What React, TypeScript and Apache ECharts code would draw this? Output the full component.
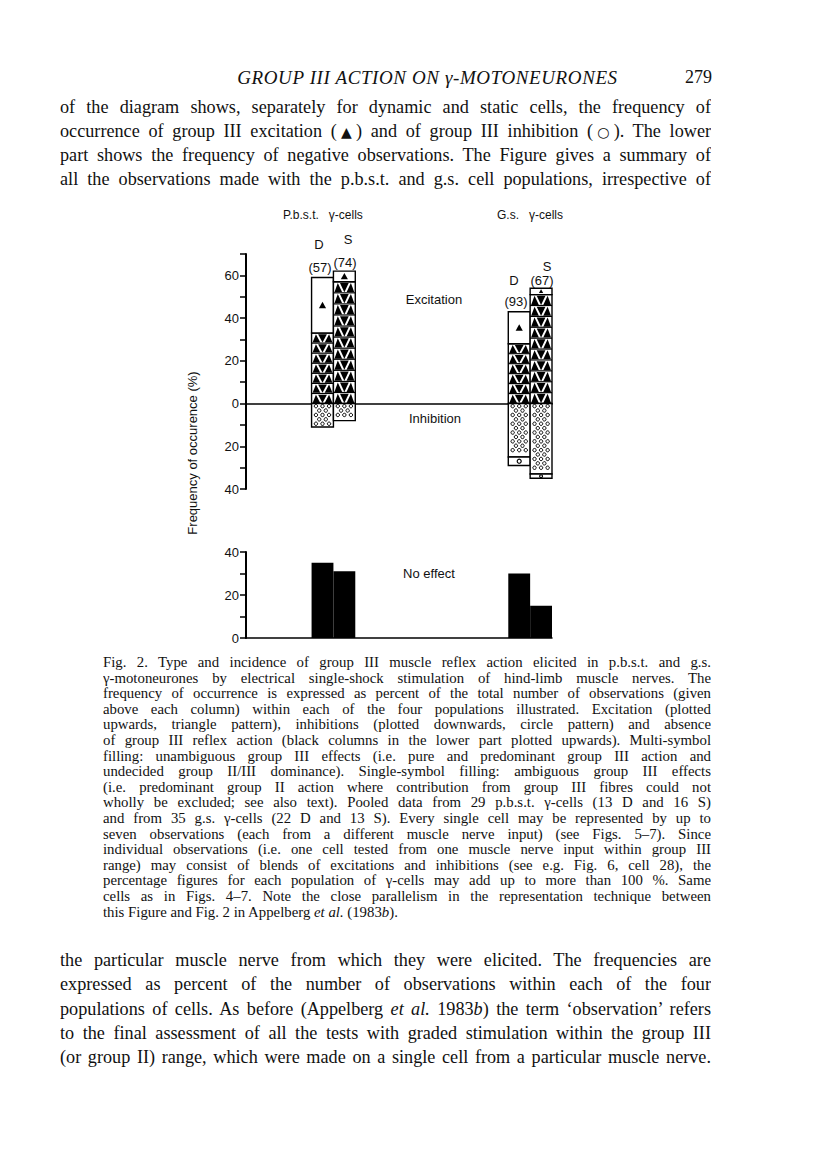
import React, { useEffect, useRef } from "react";
import * as echarts from "echarts";

// ---------- data ----------
const groupNames = ["P.b.s.t.", "G.s."];
const cellTypes = ["D", "S", "D", "S"];
const observations = [57, 74, 93, 67];
const excitationMulti = [33, 57, 28, 51];
const excitationSingle = [26, 5, 15, 3];
const inhibitionMulti = [11, 8, 25, 33];
const inhibitionSingle = [0, 0, 4, 2];
const noEffect = [35, 31, 30, 15];
const upperTicks = [-40, -20, 0, 20, 40, 60];
const lowerTicks = [0, 20, 40];

// ---------- page text ----------
const headerTitle = "GROUP III ACTION ON γ-MOTONEURONES";
const pageNumber = "279";
const SYM: React.CSSProperties = { fontFamily: "'DejaVu Sans', sans-serif", fontSize: 14 };
const topLines: React.ReactNode[] = [
  "of the diagram shows, separately for dynamic and static cells, the frequency of",
  <>occurrence of group III excitation (<span style={SYM}>▲</span>) and of group III inhibition (<span style={SYM}>○</span>). The lower</>,
  "part shows the frequency of negative observations. The Figure gives a summary of",
  "all the observations made with the p.b.s.t. and g.s. cell populations, irrespective of",
];
const captionLines: React.ReactNode[] = [
  "Fig. 2. Type and incidence of group III muscle reflex action elicited in p.b.s.t. and g.s.",
  "γ-motoneurones by electrical single-shock stimulation of hind-limb muscle nerves. The",
  "frequency of occurrence is expressed as percent of the total number of observations (given",
  "above each column) within each of the four populations illustrated. Excitation (plotted",
  "upwards, triangle pattern), inhibitions (plotted downwards, circle pattern) and absence",
  "of group III reflex action (black columns in the lower part plotted upwards). Multi-symbol",
  "filling: unambiguous group III effects (i.e. pure and predominant group III action and",
  "undecided group II/III dominance). Single-symbol filling: ambiguous group III effects",
  "(i.e. predominant group II action where contribution from group III fibres could not",
  "wholly be excluded; see also text). Pooled data from 29 p.b.s.t. γ-cells (13 D and 16 S)",
  "and from 35 g.s. γ-cells (22 D and 13 S). Every single cell may be represented by up to",
  "seven observations (each from a different muscle nerve input) (see Figs. 5–7). Since",
  "individual observations (i.e. one cell tested from one muscle nerve input within group III",
  "range) may consist of blends of excitations and inhibitions (see e.g. Fig. 6, cell 28), the",
  "percentage figures for each population of γ-cells may add up to more than 100 %. Same",
  "cells as in Figs. 4–7. Note the close parallelism in the representation technique between",
  <>this Figure and Fig. 2 in Appelberg <i>et al.</i> (1983<i>b</i>).</>,
];
const bottomLines: React.ReactNode[] = [
  "the particular muscle nerve from which they were elicited. The frequencies are",
  "expressed as percent of the number of observations within each of the four",
  <>populations of cells. As before (Appelberg <i>et al.</i> 1983<i>b</i>) the term ‘observation’ refers</>,
  "to the final assessment of all the tests with graded stimulation within the group III",
  "(or group II) range, which were made on a single cell from a particular muscle nerve.",
];

// layout: column slot on the x scale (0..14)
const SLOTS = [3, 4, 12, 13];

const SANS = "'Liberation Sans', Arial, sans-serif";
const SERIF = "'Liberation Serif', 'Times New Roman', serif";

function buildSegments() {
  const segs: number[][] = [];
  for (let i = 0; i < 4; i++) {
    const s = SLOTS[i];
    segs.push([s, 0, excitationMulti[i], 0]);
    if (excitationSingle[i] > 0)
      segs.push([s, excitationMulti[i], excitationMulti[i] + excitationSingle[i], 1]);
    segs.push([s, 0, -inhibitionMulti[i], 2]);
    if (inhibitionSingle[i] > 0)
      segs.push([s, -inhibitionMulti[i], -(inhibitionMulti[i] + inhibitionSingle[i]), 3]);
  }
  return segs;
}

function renderSegment(_params: any, api: any) {
  const s = api.value(0);
  const a = api.value(1);
  const b = api.value(2);
  const k = api.value(3);
  const p0 = api.coord([s, a]);
  const p1 = api.coord([s + 1, b]);
  const x = p0[0];
  const w = p1[0] - p0[0];
  const y = Math.min(p0[1], p1[1]);
  const h = Math.abs(p1[1] - p0[1]);
  const children: any[] = [
    {
      type: "rect",
      shape: { x, y, width: w, height: h },
      style: { fill: "#fff", stroke: "#000", lineWidth: 1.4 },
    },
  ];
  if (k === 0) {
    const n = Math.max(1, Math.round(h / 10.7));
    const rh = h / n;
    for (let r = 0; r < n; r++) {
      const yt = y + r * rh + 1.2;
      const yb = y + (r + 1) * rh - 0.6;
      children.push({
        type: "polygon",
        shape: { points: [[x + 1, yb], [x + 0.2 * w, yt], [x + 0.4 * w, yb]] },
        style: { fill: "#000" },
      });
      children.push({
        type: "polygon",
        shape: { points: [[x + 0.3 * w, yt], [x + 0.7 * w, yt], [x + 0.5 * w, yb]] },
        style: { fill: "#000" },
      });
      children.push({
        type: "polygon",
        shape: { points: [[x + 0.6 * w, yb], [x + 0.8 * w, yt], [x + w - 1, yb]] },
        style: { fill: "#000" },
      });
      children.push({
        type: "line",
        shape: { x1: x, y1: y + (r + 1) * rh, x2: x + w, y2: y + (r + 1) * rh },
        style: { stroke: "#000", lineWidth: 1.2 },
      });
    }
  } else if (k === 1) {
    const cx = x + w / 2;
    const cy = y + h / 2;
    const t = Math.min(6.5, h * 0.6);
    children.push({
      type: "polygon",
      shape: { points: [[cx - t * 0.55, cy + t * 0.45], [cx, cy - t * 0.55], [cx + t * 0.55, cy + t * 0.45]] },
      style: { fill: "#000" },
    });
  } else if (k === 2) {
    const rowH = 4.4;
    const n = Math.max(1, Math.floor((h - 1) / rowH));
    for (let r = 0; r < n; r++) {
      const cy = y + 2.6 + r * rowH;
      const xs = r % 2 === 0 ? [0.2, 0.5, 0.8] : [0.35, 0.65];
      for (const f of xs) {
        children.push({
          type: "circle",
          shape: { cx: x + f * w, cy, r: 1.7 },
          style: { fill: "#fff", stroke: "#000", lineWidth: 1 },
        });
      }
    }
  } else if (k === 3) {
    children.push({
      type: "circle",
      shape: { cx: x + w / 2, cy: y + h / 2, r: Math.min(2, h / 3) },
      style: { fill: "#fff", stroke: "#000", lineWidth: 1.2 },
    });
  }
  return { type: "group", children };
}

function renderNoEffect(_params: any, api: any) {
  const s = api.value(0);
  const p0 = api.coord([s, 0]);
  const p1 = api.coord([s + 1, api.value(1)]);
  return {
    type: "rect",
    shape: { x: p0[0], y: p1[1], width: p1[0] - p0[0], height: p0[1] - p1[1] },
    style: { fill: "#000" },
  };
}

function txt(x: number, y: number, text: string, opts: any = {}) {
  return {
    type: "text",
    x,
    y,
    rotation: opts.rotation || 0,
    style: {
      text,
      fill: "#111",
      font: `${opts.size || 13}px ${SANS}`,
      textAlign: opts.align || "center",
      textVerticalAlign: "middle",
    },
  };
}

export default function App() {
  const ref = useRef<HTMLDivElement>(null);

  useEffect(() => {
    if (!ref.current) return;
    const chart = echarts.init(ref.current, null, { renderer: "svg" });
    const axisLabel = {
      color: "#111",
      fontFamily: SANS,
      fontSize: 13,
      margin: 7,
    };
    chart.setOption({
      animation: false,
      backgroundColor: "transparent",
      grid: [
        { left: 246, top: 254, width: 306, height: 235 },
        { left: 246, top: 552, width: 306, height: 86 },
      ],
      xAxis: [
        {
          gridIndex: 0,
          type: "value",
          min: 0,
          max: 14,
          axisLine: { show: true, onZero: true, lineStyle: { color: "#000", width: 1.5 } },
          axisTick: { show: false },
          axisLabel: { show: false },
          splitLine: { show: false },
        },
        {
          gridIndex: 1,
          type: "value",
          min: 0,
          max: 14,
          axisLine: { show: true, lineStyle: { color: "#000", width: 1.5 } },
          axisTick: { show: false },
          axisLabel: { show: false },
          splitLine: { show: false },
        },
      ],
      yAxis: [
        {
          gridIndex: 0,
          type: "value",
          min: -40,
          max: 70,
          interval: 10,
          axisLine: { show: true, onZero: false, lineStyle: { color: "#000", width: 2 } },
          axisTick: { show: true, length: 6, lineStyle: { color: "#000", width: 1.5 } },
          axisLabel: {
            ...axisLabel,
            formatter: (v: number) => (upperTicks.includes(v) ? String(Math.abs(v)) : ""),
          },
          splitLine: { show: false },
        },
        {
          gridIndex: 1,
          type: "value",
          min: 0,
          max: 40,
          interval: 10,
          axisLine: { show: true, onZero: false, lineStyle: { color: "#000", width: 2 } },
          axisTick: { show: true, length: 6, lineStyle: { color: "#000", width: 1.5 } },
          axisLabel: {
            ...axisLabel,
            formatter: (v: number) => (lowerTicks.includes(v) ? String(v) : ""),
          },
          splitLine: { show: false },
        },
      ],
      series: [
        {
          type: "custom",
          xAxisIndex: 0,
          yAxisIndex: 0,
          renderItem: renderSegment,
          encode: { x: 0, y: [1, 2] },
          data: buildSegments(),
          z: 5,
        },
        {
          type: "custom",
          xAxisIndex: 1,
          yAxisIndex: 1,
          renderItem: renderNoEffect,
          encode: { x: 0, y: 1 },
          data: noEffect.map((v, i) => [SLOTS[i], v]),
        },
      ],
      graphic: [
        txt(283, 215, `${groupNames[0]}   γ-cells`, { align: "left", size: 12 }),
        txt(497, 215, `${groupNames[1]}   γ-cells`, { align: "left", size: 12 }),
        txt(319, 244, cellTypes[0]),
        txt(348, 239, cellTypes[1]),
        txt(320, 267, `(${observations[0]})`),
        txt(345, 262, `(${observations[1]})`),
        txt(547, 266, cellTypes[3]),
        txt(514, 280, cellTypes[2]),
        txt(542, 280, `(${observations[3]})`),
        txt(516, 301, `(${observations[2]})`),
        txt(434, 299, "Excitation"),
        txt(435, 418, "Inhibition"),
        txt(429, 573, "No effect"),
        txt(192, 453, "Frequency of occurence (%)", { rotation: Math.PI / 2, size: 13 }),
      ],
    });
    return () => chart.dispose();
  }, []);

  const lineStyle = (
    top: number,
    left: number,
    width: number,
    size: number,
    lh: number,
    justify: boolean
  ): React.CSSProperties => ({
    position: "absolute",
    left,
    top: top - lh / 2,
    width,
    height: lh,
    lineHeight: `${lh}px`,
    fontFamily: SERIF,
    fontSize: size,
    color: "#111",
    textAlign: justify ? "justify" : "left",
    textAlignLast: justify ? "justify" : "left",
    overflow: "hidden",
  });

  return (
    <div style={{ position: "absolute", left: 0, top: 0, width: 816, height: 1160, background: "#fff" }}>
      <div ref={ref} style={{ position: "absolute", left: 0, top: 0, width: 816, height: 1160 }} />
      <div
        style={{
          ...lineStyle(78, 180, 495, 19, 24, false),
          textAlign: "center",
          textAlignLast: "center",
          fontStyle: "italic",
          letterSpacing: 0.6,
        }}
      >
        {headerTitle}
      </div>
      <div style={{ ...lineStyle(77, 650, 62, 18, 24, false), textAlign: "right", textAlignLast: "right" }}>{pageNumber}</div>
      {topLines.map((t, i) => (
        <div key={"t" + i} style={lineStyle(107 + i * 24, 60, 651, 18.2, 24, true)}>
          {t}
        </div>
      ))}
      {captionLines.map((t, i) => (
        <div key={"c" + i} style={lineStyle(662 + i * 15.6, 103, 608, 14.8, 16, i < captionLines.length - 1)}>
          {t}
        </div>
      ))}
      {bottomLines.map((t, i) => (
        <div key={"b" + i} style={lineStyle(960 + i * 24.3, 60, 651, 18.2, 24, true)}>
          {t}
        </div>
      ))}
    </div>
  );
}
